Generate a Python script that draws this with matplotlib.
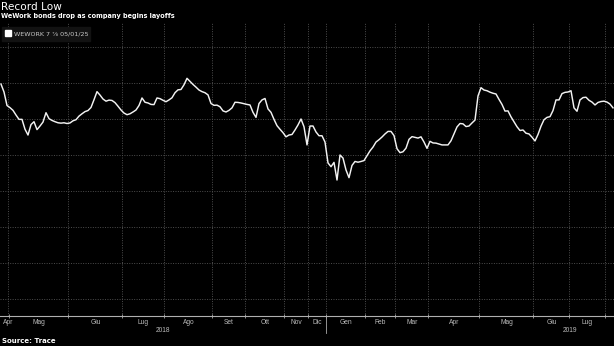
import matplotlib
matplotlib.use("Agg")
import matplotlib.pyplot as plt
import matplotlib.transforms as mtransforms
from matplotlib.patches import Rectangle
import numpy as np

# ---------------- data ----------------
title = "Record Low"
subtitle = "WeWork bonds drop as company begins layoffs"
series_name = "WEWORK 7 \u215e 05/01/25"
source = "Source: Trace"

months = ["Apr", "Mag", "Giu", "Lug", "Ago", "Set", "Ott", "Nov", "Dic",
          "Gen", "Feb", "Mar", "Apr", "Mag", "Giu", "Lug", "Ago"]
month_obs = [3, 20, 18, 14, 16, 11, 13, 8, 6, 13, 10, 11, 17, 18, 12, 12, 3]
years = ["2018", "2019"]
year_first_month = [0, 9]

price = [
    101.94, 101.50, 100.75, 100.63, 100.48, 100.22, 99.98, 99.98, 99.43, 99.11,
    99.69, 99.85, 99.41, 99.61, 99.83, 100.35, 100.02, 99.92, 99.85, 99.79,
    99.77, 99.79, 99.75, 99.78, 99.90, 99.96, 100.16, 100.29, 100.41, 100.47,
    100.64, 101.07, 101.52, 101.33, 101.11, 100.99, 101.05, 101.03, 100.91, 100.71,
    100.50, 100.33, 100.24, 100.29, 100.39, 100.50, 100.75, 101.17, 100.93, 100.89,
    100.81, 100.80, 101.17, 101.13, 101.04, 100.96, 101.06, 101.18, 101.46, 101.62,
    101.64, 101.90, 102.26, 102.09, 101.92, 101.77, 101.61, 101.52, 101.46, 101.34,
    100.86, 100.76, 100.77, 100.68, 100.45, 100.39, 100.48, 100.62, 100.93, 100.92,
    100.89, 100.85, 100.81, 100.78, 100.37, 100.09, 100.86, 101.06, 101.14, 100.56,
    100.37, 99.98, 99.63, 99.43, 99.24, 99.01, 99.11, 99.14, 99.39, 99.67,
    100.00, 99.57, 98.56, 99.61, 99.61, 99.28, 99.07, 99.07, 98.72, 97.56,
    97.35, 97.59, 96.61, 98.00, 97.83, 97.17, 96.74, 97.42, 97.64, 97.60,
    97.64, 97.69, 97.96, 98.23, 98.44, 98.72, 98.85, 99.00, 99.17, 99.31,
    99.31, 99.08, 98.35, 98.13, 98.18, 98.38, 98.87, 99.02, 98.98, 98.94,
    99.01, 98.72, 98.37, 98.76, 98.67, 98.66, 98.61, 98.56, 98.56, 98.56,
    98.79, 99.18, 99.56, 99.75, 99.73, 99.58, 99.61, 99.78, 99.94, 101.28,
    101.74, 101.61, 101.57, 101.49, 101.43, 101.39, 101.09, 100.81, 100.44, 100.45,
    100.12, 99.84, 99.57, 99.36, 99.39, 99.21, 99.17, 98.99, 98.78, 99.14,
    99.60, 99.96, 100.09, 100.13, 100.47, 101.06, 101.06, 101.41, 101.48, 101.50,
    101.57, 100.62, 100.43, 101.06, 101.19, 101.21, 101.04, 100.94, 100.78, 100.92,
    100.97, 100.99, 100.94, 100.83, 100.62,
]
grid_levels = [90, 92, 94, 96, 98, 100, 102, 104]

# ---------------- figure ----------------
W, H = 614, 346
fig = plt.figure(figsize=(W / 100, H / 100), dpi=100, facecolor="black")

def fy(px):
    return 1 - px / H

ax_top_px, ax_bot_px = 23, 316
ax = fig.add_axes([0, fy(ax_bot_px), 1, (ax_bot_px - ax_top_px) / H])
ax.set_facecolor("black")

idx = np.arange(len(price))
ax.plot(idx, price, color="#f2f2f2", lw=1.05, solid_joinstyle="round", zorder=3)

ax.set_xlim(-1 / 3, 613 / 3)
ax.set_ylim(104 - (ax_bot_px - 47) / 18, 104 + (47 - ax_top_px) / 18)

bounds = np.cumsum(month_obs)[:-1] - 0.5
ax.set_xticks(bounds)
ax.set_xticklabels([])
ax.set_yticks(grid_levels)
ax.set_yticklabels([])
ax.tick_params(axis="y", length=0)
ax.tick_params(axis="x", length=3, direction="inout", color="#aaaaaa", width=0.6)
ax.grid(True, color="#4d4d4d", linestyle=(0, (1, 1.5)), linewidth=0.7, zorder=1)
for s in ["top", "left", "right"]:
    ax.spines[s].set_visible(False)
ax.spines["bottom"].set_color("#b0b0b0")
ax.spines["bottom"].set_linewidth(0.8)

trans = mtransforms.blended_transform_factory(ax.transData, fig.transFigure)

# month labels
starts = np.concatenate([[-0.5], bounds])
ends = np.concatenate([bounds, [len(price) - 0.5]])
for k, name in enumerate(months[:-1]):
    mid = (starts[k] + ends[k]) / 2
    if k == 0:
        fig.text(2.5 / W, fy(322.7), name, color="#bbbbbb", fontsize=4.8,
                 family="Liberation Sans", ha="left", va="center")
    else:
        ax.text(mid, fy(322.7), name, transform=trans, color="#bbbbbb",
                fontsize=4.8, family="Liberation Sans", ha="center", va="center")

# year labels
y2018_mid = (starts[0] + ends[year_first_month[1] - 1]) / 2
ax.text(y2018_mid, fy(330.5), years[0], transform=trans, color="#bbbbbb",
        fontsize=4.8, family="Liberation Sans", ha="center", va="center")
y2019_mid = (starts[14] + ends[15]) / 2
ax.text(y2019_mid, fy(330.5), years[1], transform=trans, color="#bbbbbb",
        fontsize=4.8, family="Liberation Sans", ha="center", va="center")
sep = starts[year_first_month[1]]
ax.plot([sep, sep], [fy(316), fy(333)], transform=trans, color="#aaaaaa",
        lw=0.6, clip_on=False)

# titles
fig.text(1 / W, fy(2.5), title, color="white", fontsize=7.6,
         family="DejaVu Sans", ha="left", va="top")
fig.text(1 / W, fy(12.8), subtitle, color="white", fontsize=4.7,
         family="DejaVu Sans", weight="bold", ha="left", va="top")

# legend
fig.patches.append(Rectangle((2 / W, fy(40.5)), 88 / W, 13 / H,
                             transform=fig.transFigure, color="#121212", zorder=5))
fig.patches.append(Rectangle((5 / W, fy(36.3)), 6 / W, 6 / H,
                             transform=fig.transFigure, color="white", zorder=6))
fig.text(13.5 / W, fy(33.8), series_name, color="#c8c8c8", fontsize=4.6,
         family="DejaVu Sans", ha="left", va="center", zorder=7)

# source
fig.text(2 / W, fy(340.8), source, color="white", fontsize=5.0,
         family="DejaVu Sans", weight="bold", ha="left", va="center")

fig.savefig("out.png", dpi=100, facecolor="black")
